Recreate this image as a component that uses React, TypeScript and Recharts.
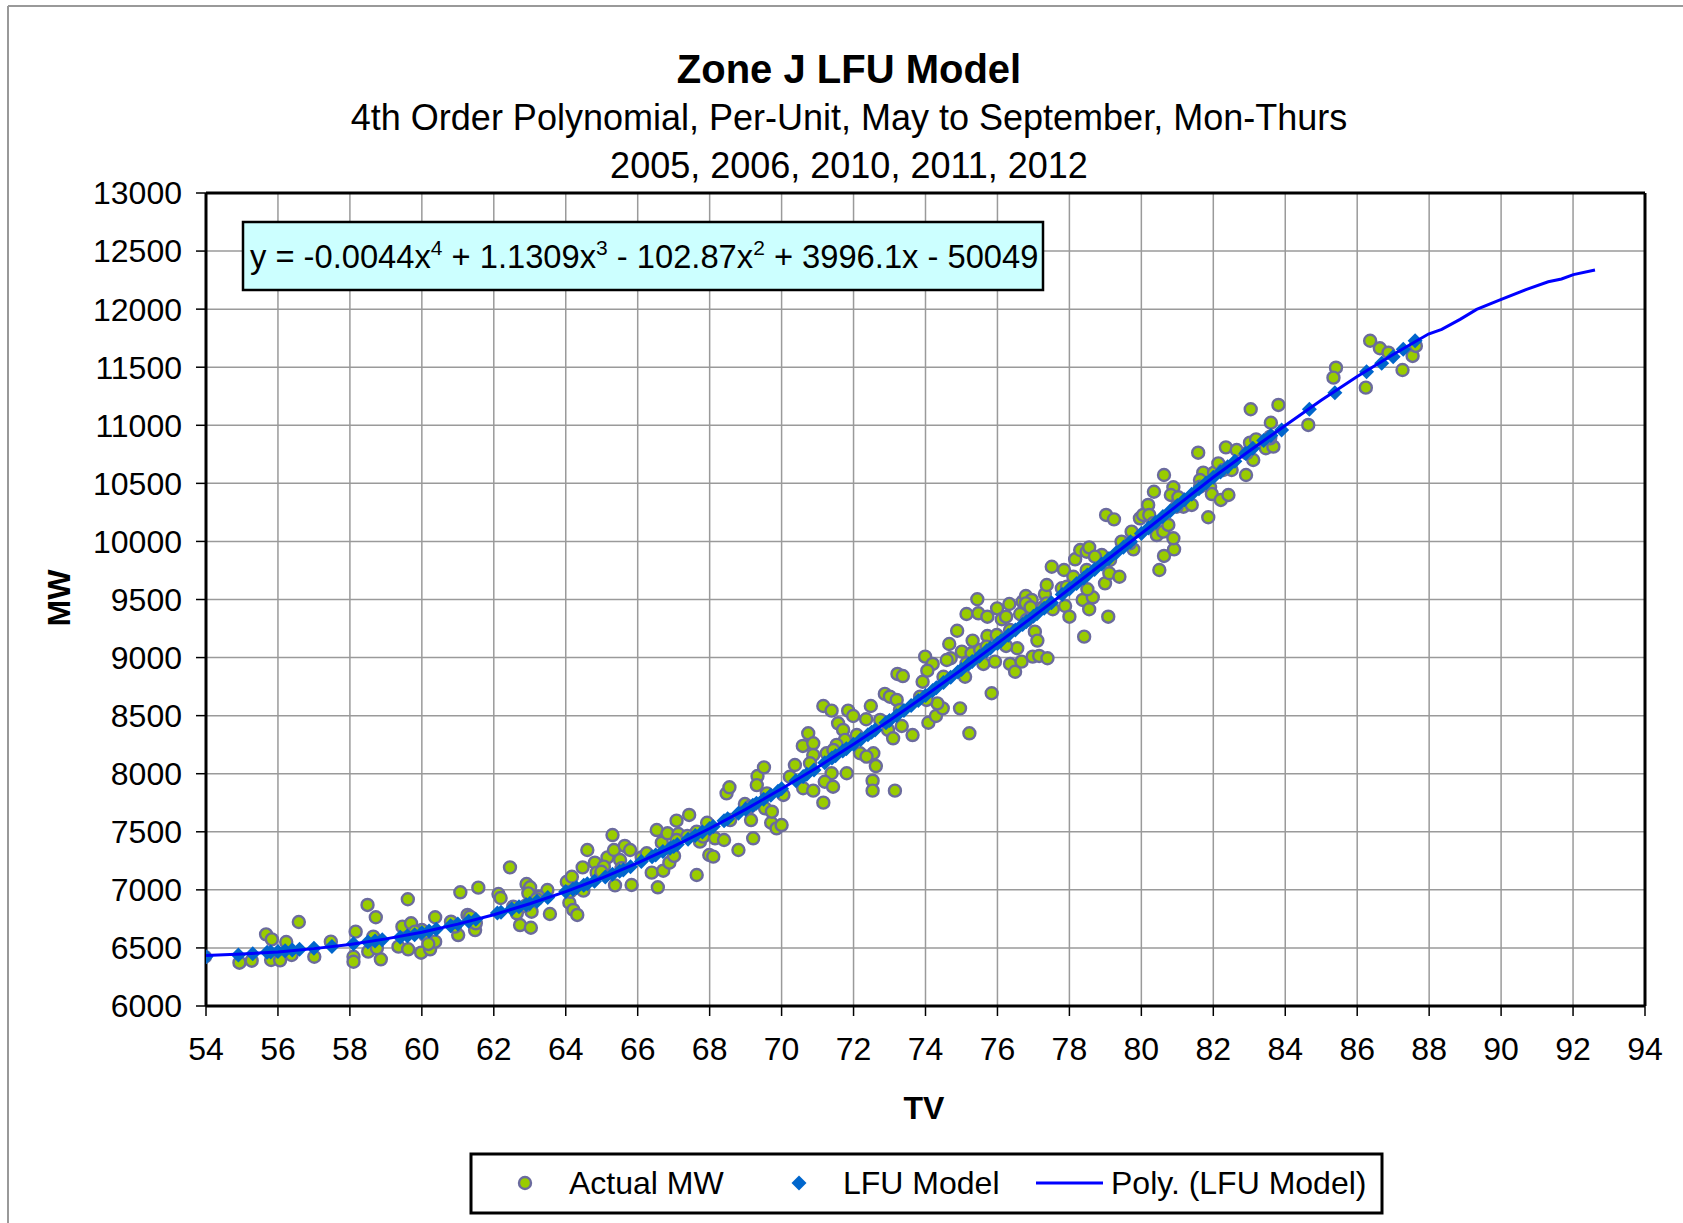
import React from 'react';
import { ScatterChart, Scatter, XAxis, YAxis, CartesianGrid, ReferenceLine } from 'recharts';

const FONT = '"Liberation Sans", Arial, Helvetica, sans-serif';

const xTicks = [54, 56, 58, 60, 62, 64, 66, 68, 70, 72, 74, 76, 78, 80, 82, 84, 86, 88, 90, 92, 94];
const yTicks = [6000, 6500, 7000, 7500, 8000, 8500, 9000, 9500, 10000, 10500, 11000, 11500, 12000, 12500, 13000];

// Actual MW readings, [TV, MW]
const actualMW: [number, number][] = [
  [53.97, 6424], [54.93, 6373], [55.27, 6390], [55.67, 6617], [55.83, 6574], [55.81, 6396], [56.06, 6393],
  [56.23, 6551], [56.38, 6439], [56.58, 6723], [57.01, 6424], [57.47, 6554], [58.1, 6424], [58.1, 6381],
  [58.16, 6640], [58.49, 6870], [58.72, 6764], [58.51, 6468], [58.65, 6597], [58.86, 6402], [58.75, 6497],
  [59.35, 6511], [59.62, 6488], [59.61, 6919], [59.46, 6683], [59.7, 6712], [59.98, 6459], [60.23, 6488],
  [60.37, 6554], [60.37, 6764], [60.09, 6611], [60.0, 6654], [60.81, 6726], [61.01, 6611], [61.07, 6979],
  [61.27, 6784], [61.48, 6654], [61.57, 7019], [59.81, 6640], [60.18, 6534], [60.92, 6683], [61.5, 6712],
  [61.34, 6769], [62.54, 6855],
  [62.13, 6964], [62.19, 6930], [62.45, 7194], [62.91, 7050], [63.01, 7022], [62.96, 6970], [62.73, 6697],
  [63.03, 6674], [63.05, 6812], [62.64, 6798], [63.49, 6999], [63.56, 6792], [63.24, 6941], [64.1, 6889],
  [64.21, 6827], [64.32, 6784], [64.03, 7070], [64.17, 7113], [64.47, 7194], [64.6, 7343], [64.49, 6993],
  [64.81, 7234], [64.86, 7148], [65.16, 7280], [65.3, 7472], [65.34, 7343], [65.51, 7257], [65.64, 7378],
  [65.79, 7343], [65.37, 7039], [65.83, 7042], [65.06, 7200], [66.11, 7280], [66.39, 7148], [66.53, 7515],
  [66.56, 7022], [66.71, 7165], [66.67, 7406], [66.83, 7487], [66.88, 7234], [67.01, 7292], [67.08, 7596],
  [67.13, 7481], [67.43, 7645], [67.38, 7464], [67.64, 7128], [67.73, 7415], [67.82, 7458], [67.99, 7300],
  [67.93, 7578], [68.15, 7444],
  [68.1, 7286], [68.4, 7429], [68.8, 7343], [69.21, 7444], [68.47, 7831], [68.55, 7883], [68.98, 7739],
  [69.15, 7601], [69.33, 7980], [69.51, 8055], [69.31, 7902], [69.54, 7702], [69.71, 7578], [69.86, 7529],
  [70.0, 7558], [69.73, 7673], [70.05, 7817], [70.37, 8075], [70.6, 7875], [70.88, 7854], [71.16, 7751],
  [70.59, 8239], [70.74, 8348], [70.88, 8262], [70.88, 8161], [71.16, 8583], [71.39, 8543], [71.25, 8176],
  [71.39, 8004], [71.2, 7931], [71.43, 7888], [71.57, 8434], [71.71, 8377], [71.85, 8543], [71.99, 8497],
  [71.76, 8291], [71.81, 8004], [71.53, 8248], [72.18, 8176], [72.35, 8469], [72.48, 8583], [72.55, 8176],
  [72.62, 8066], [72.53, 7940], [72.53, 7854], [72.36, 8147], [72.87, 8687], [73.01, 8663], [73.2, 8635],
  [72.96, 8377], [73.1, 8305], [73.15, 7854], [73.22, 8859],
  [73.37, 8841], [73.64, 8333], [73.34, 8411], [73.92, 8792], [73.99, 9008], [74.2, 8945], [74.08, 8439],
  [74.29, 8497], [74.48, 8563], [74.33, 8606], [74.03, 8635], [74.66, 9117], [74.88, 9231], [74.7, 8994],
  [74.96, 8563], [75.22, 8348], [75.1, 8835], [75.01, 9051], [75.31, 9146], [75.14, 9375], [75.44, 9502],
  [75.47, 9381], [75.72, 9352], [75.61, 8945], [75.84, 8693], [75.72, 9186], [75.93, 8965], [75.99, 9424],
  [76.12, 9330], [76.24, 9352], [76.33, 9461], [76.35, 8945], [76.49, 8878], [76.55, 9080], [76.67, 8965],
  [76.63, 9375], [76.7, 9481], [76.79, 9530], [76.95, 9496], [76.98, 9008], [77.04, 9223], [77.11, 9146],
  [77.16, 9014], [77.39, 8994], [77.32, 9547], [77.37, 9625], [77.54, 9416], [77.51, 9782], [77.85, 9754],
  [77.88, 9444], [78.0, 9352], [77.79, 9597], [78.11, 9696], [78.16, 9846], [78.3, 9926], [78.48, 9911],
  [78.55, 9949], [78.37, 9496], [78.41, 9180], [78.55, 9416], [78.65, 9519], [78.5, 9588], [78.9, 9883],
  [78.99, 9639], [79.08, 9352], [79.11, 9726], [74.05, 8887], [74.59, 8979], [75.28, 9037], [75.52, 9065],
  [75.98, 9194], [76.24, 9100], [76.79, 9467], [76.92, 9433], [77.27, 9433],
  [78.71, 9869], [79.39, 9696], [79.02, 10228], [79.24, 10190], [79.45, 9998], [79.73, 10084], [79.78, 9932],
  [79.96, 10199], [80.05, 10228], [80.19, 10314], [80.22, 10228], [80.35, 10428], [80.43, 10055], [80.61, 10084],
  [80.63, 10572], [80.63, 9875], [80.5, 9754], [80.91, 9932], [80.89, 10027], [80.89, 10466], [80.82, 10400],
  [80.75, 10142], [81.03, 10380], [81.17, 10299], [81.4, 10314], [81.58, 10764], [81.72, 10592], [81.63, 10529],
  [81.86, 10208], [81.91, 10466], [81.96, 10408], [82.02, 10592], [82.14, 10672], [82.21, 10357], [82.42, 10400],
  [82.35, 10810], [82.65, 10787], [82.51, 10615], [82.91, 10572], [83.11, 10701], [83.04, 11138], [83.02, 10850],
  [83.19, 10879], [83.46, 10802], [83.6, 11022], [83.67, 10816], [83.81, 11175], [83.58, 10888],
  [84.64, 11003], [85.41, 11496], [85.34, 11410], [86.24, 11324], [86.36, 11728], [86.63, 11663], [86.87, 11625],
  [87.26, 11476], [87.54, 11597], [87.63, 11683],
  // points lying close to the model band
  [62.87, 6861], [63.19, 6919], [64.12, 6984], [64.99, 7156], [65.55, 7186], [66.25, 7315], [67.08, 7429],
  [67.64, 7501], [68.57, 7601], [69.12, 7716], [69.59, 7831], [70.23, 7974], [70.79, 8090], [71.44, 8204],
  [72.09, 8333], [72.74, 8463], [73.29, 8549], [73.85, 8663], [74.5, 8835], [75.14, 8951], [75.7, 9094],
  [76.35, 9237], [76.81, 9323], [77.37, 9467], [77.93, 9610], [78.48, 9754], [79.13, 9840], [79.68, 9984],
  [80.33, 10156], [80.98, 10299], [81.63, 10471], [82.28, 10615], [82.93, 10759], [83.58, 10902],
];

// LFU model values, [TV, MW]
const lfuModel: [number, number][] = [
  [54.0, 6425], [54.9, 6440], [55.3, 6450], [55.7, 6462], [55.8, 6466], [56.0, 6470], [56.2, 6476], [56.4, 6482],
  [56.6, 6488], [57.0, 6498], [57.5, 6512], [58.1, 6535], [58.5, 6552], [58.7, 6560], [58.9, 6570], [59.4, 6592],
  [59.6, 6603], [59.8, 6614], [60.0, 6630], [60.2, 6645], [60.4, 6660], [60.8, 6690], [61.0, 6705], [61.3, 6730],
  [61.5, 6748], [62.1, 6800], [62.2, 6808], [62.5, 6835], [62.7, 6855], [62.9, 6872], [63.0, 6882], [63.2, 6902],
  [63.5, 6935], [64.0, 6985], [64.2, 7006], [64.3, 7018], [64.5, 7040], [64.6, 7052], [64.8, 7075], [65.1, 7110],
  [65.3, 7135], [65.5, 7160], [65.6, 7172], [65.8, 7200], [66.1, 7245], [66.4, 7285], [66.5, 7300], [66.7, 7330],
  [66.9, 7358], [67.0, 7374], [67.1, 7390], [67.4, 7435], [67.6, 7468], [67.8, 7498], [68.0, 7528], [68.1, 7545],
  [68.4, 7595], [68.5, 7612], [68.8, 7660], [69.0, 7693], [69.2, 7728], [69.3, 7745], [69.5, 7780], [69.7, 7815],
  [69.9, 7850], [70.0, 7870], [70.4, 7940], [70.6, 7977], [70.7, 7996], [70.9, 8033], [71.2, 8095], [71.4, 8135],
  [71.5, 8155], [71.7, 8195], [71.8, 8215], [72.0, 8253], [72.2, 8294], [72.4, 8335], [72.5, 8356], [72.6, 8377],
  [72.9, 8438], [73.0, 8459], [73.2, 8502], [73.4, 8545], [73.6, 8587], [73.8, 8630], [74.0, 8673], [74.2, 8716],
  [74.3, 8740], [74.5, 8785], [74.7, 8830], [74.9, 8876], [75.0, 8898], [75.2, 8944], [75.3, 8966], [75.5, 9012],
  [75.7, 9058], [75.8, 9080], [76.0, 9122], [76.1, 9145], [76.3, 9192], [76.5, 9238], [76.7, 9285], [76.8, 9308],
  [77.0, 9355], [77.1, 9378], [77.3, 9425], [77.5, 9472], [77.8, 9543], [78.0, 9590], [78.2, 9638], [78.4, 9686],
  [78.5, 9710], [78.7, 9758], [78.9, 9806], [79.1, 9854], [79.3, 9902], [79.5, 9950], [79.7, 9998], [80.0, 10068],
  [80.2, 10116], [80.4, 10165], [80.6, 10214], [80.8, 10262], [81.0, 10310], [81.2, 10358], [81.4, 10406],
  [81.6, 10454], [81.8, 10503], [82.0, 10552], [82.2, 10598], [82.4, 10644], [82.6, 10690], [82.9, 10758],
  [83.1, 10802], [83.4, 10868], [83.6, 10912], [83.9, 10960], [84.67, 11138], [85.38, 11281], [86.26, 11462],
  [86.68, 11534], [87.0, 11590], [87.28, 11654], [87.61, 11728],
];

// 4th order polynomial trend through the model, [TV, MW]
const polyFit: [number, number][] = [
  [54, 6434], [55, 6448], [56, 6465], [57, 6494], [58, 6530], [59, 6578], [60, 6635], [61, 6705], [62, 6786],
  [63, 6880], [64, 6985], [65, 7102], [66, 7232], [67, 7374], [68, 7528], [69, 7693], [70, 7870], [71, 8056],
  [72, 8253], [73, 8459], [74, 8673], [75, 8895], [76, 9122], [77, 9355], [78, 9590], [79, 9829], [80, 10068],
  [81, 10310], [82, 10552], [83, 10779], [84, 10998], [85, 11215], [86, 11420], [87, 11610], [87.98, 11786],
  [88.35, 11826], [88.86, 11912], [89.32, 11998], [89.97, 12079], [90.71, 12171], [91.31, 12236], [91.68, 12260],
  [92.01, 12297], [92.61, 12337],
];

const toXY = (rows: [number, number][]) => rows.map(([x, y]) => ({ x, y }));

const GreenDot = (p: any) => (
  <circle cx={p.cx} cy={p.cy} r={6} fill="#99CC00" stroke="#6B6B9E" strokeWidth={2.4} />
);

const BlueDiamond = (p: any) => {
  const s = 7.5;
  return (
    <polygon
      points={`${p.cx},${p.cy - s} ${p.cx + s},${p.cy} ${p.cx},${p.cy + s} ${p.cx - s},${p.cy}`}
      fill="#0066CC"
    />
  );
};

const NoDot = () => <g />;

export default function App() {
  const tick = { fontSize: 32, fill: '#000', fontFamily: FONT };
  return (
    <div style={{ position: 'absolute', left: 0, top: 0, width: 1683, height: 1223, background: '#fff' }}>
      <ScatterChart width={1683} height={1223} margin={{ top: 193, right: 38, bottom: 157, left: 106 }}>
        <CartesianGrid stroke="#9a9a9a" strokeWidth={1.5} />
        <XAxis
          type="number"
          dataKey="x"
          domain={[54, 94]}
          ticks={xTicks}
          allowDataOverflow
          height={60}
          tick={tick}
          tickSize={10}
          tickMargin={21}
          axisLine={{ stroke: '#000', strokeWidth: 3 }}
          tickLine={{ stroke: '#000', strokeWidth: 1.5 }}
        />
        <YAxis
          type="number"
          dataKey="y"
          domain={[6000, 13000]}
          ticks={yTicks}
          allowDataOverflow
          width={100}
          tick={tick}
          tickSize={10}
          tickMargin={14}
          axisLine={{ stroke: '#000', strokeWidth: 3 }}
          tickLine={{ stroke: '#000', strokeWidth: 1.5 }}
        />
        <ReferenceLine y={13000} stroke="#000" strokeWidth={3} />
        <ReferenceLine x={94} stroke="#000" strokeWidth={3} />
        <Scatter name="Actual MW" data={toXY(actualMW)} shape={GreenDot} isAnimationActive={false} />
        <Scatter name="LFU Model" data={toXY(lfuModel)} shape={BlueDiamond} isAnimationActive={false} />
        <Scatter
          name="Poly. (LFU Model)"
          data={toXY(polyFit)}
          shape={NoDot}
          line={{ stroke: '#0000FF', strokeWidth: 3 }}
          lineJointType="linear"
          isAnimationActive={false}
        />
      </ScatterChart>

      <svg
        width={1683}
        height={1223}
        style={{ position: 'absolute', left: 0, top: 0, pointerEvents: 'none' }}
        fontFamily={FONT}
      >
        {/* outer frame */}
        <line x1={8} y1={6} x2={1683} y2={6} stroke="#999" strokeWidth={2} />
        <line x1={8} y1={6} x2={8} y2={1223} stroke="#999" strokeWidth={2} />

        {/* titles */}
        <text x={849} y={83} textAnchor="middle" fontSize={40} fontWeight="bold">Zone J LFU Model</text>
        <text x={849} y={130} textAnchor="middle" fontSize={36}>
          4th Order Polynomial, Per-Unit, May to September, Mon-Thurs
        </text>
        <text x={849} y={178} textAnchor="middle" fontSize={36}>2005, 2006, 2010, 2011, 2012</text>

        {/* trend equation */}
        <rect x={243} y={222} width={800} height={68} fill="#CCFFFF" stroke="#000" strokeWidth={2.5} />
        <text x={250} y={268} fontSize={32.7}>
          y = -0.0044x<tspan dy={-13} fontSize={21}>4</tspan>
          <tspan dy={13}> + 1.1309x</tspan><tspan dy={-13} fontSize={21}>3</tspan>
          <tspan dy={13}> - 102.87x</tspan><tspan dy={-13} fontSize={21}>2</tspan>
          <tspan dy={13}> + 3996.1x - 50049</tspan>
        </text>

        {/* axis titles */}
        <text transform="translate(70,598) rotate(-90)" textAnchor="middle" fontSize={32} fontWeight="bold">MW</text>
        <text x={924} y={1119} textAnchor="middle" fontSize={32} fontWeight="bold">TV</text>

        {/* legend */}
        <rect x={471} y={1154} width={911} height={59} fill="#fff" stroke="#000" strokeWidth={3} />
        <circle cx={525} cy={1183} r={6} fill="#99CC00" stroke="#6B6B9E" strokeWidth={2.4} />
        <text x={569} y={1194} fontSize={32}>Actual MW</text>
        <polygon points="799,1175.5 806.5,1183 799,1190.5 791.5,1183" fill="#0066CC" />
        <text x={843} y={1194} fontSize={32}>LFU Model</text>
        <line x1={1036} y1={1183} x2={1103} y2={1183} stroke="#0000FF" strokeWidth={3} />
        <text x={1111} y={1194} fontSize={32}>Poly. (LFU Model)</text>
      </svg>
    </div>
  );
}
